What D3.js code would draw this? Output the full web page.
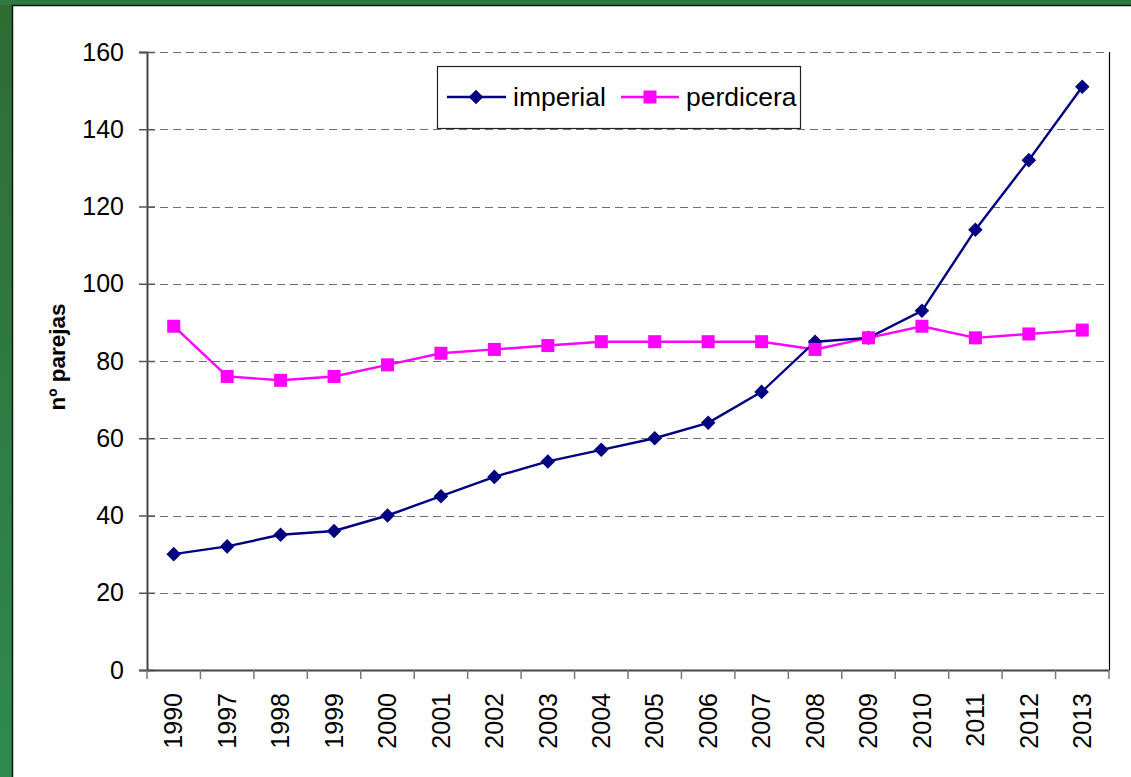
<!DOCTYPE html>
<html><head><meta charset="utf-8">
<script src="https://cdn.jsdelivr.net/npm/d3@7"></script>
<style>html,body{margin:0;padding:0;background:#fff;}svg{display:block;}</style>
</head><body>
<script>
const years = ["1990","1997","1998","1999","2000","2001","2002","2003","2004","2005","2006","2007","2008","2009","2010","2011","2012","2013"];
const imperial = [30,32,35,36,40,45,50,54,57,60,64,72,85,86,93,114,132,151];
const perdicera = [89,76,75,76,79,82,83,84,85,85,85,85,83,86,89,86,87,88];
const yTicks = [0,20,40,60,80,100,120,140,160];
const seriesNames = ["imperial","perdicera"];

const W=1131,H=777;
const svg=d3.select("body").append("svg").attr("width",W).attr("height",H);
const defs=svg.append("defs");
const g1=defs.append("linearGradient").attr("id","gr").attr("x1",0).attr("y1",0).attr("x2",0).attr("y2",1);
g1.append("stop").attr("offset","0%").attr("stop-color","#2f6c34");
g1.append("stop").attr("offset","100%").attr("stop-color","#2e8a50");
svg.append("rect").attr("width",W).attr("height",H).attr("fill","#fff");
svg.append("rect").attr("x",0).attr("y",0).attr("width",12).attr("height",H).attr("fill","url(#gr)");
svg.append("rect").attr("x",0).attr("y",0).attr("width",W).attr("height",5).attr("fill","#2f7a42");
svg.append("line").attr("x1",12.5).attr("x2",12.5).attr("y1",5).attr("y2",H).attr("stroke","#0a1a0a").attr("stroke-width",1.5);
svg.append("line").attr("x1",12).attr("x2",W).attr("y1",5.5).attr("y2",5.5).attr("stroke","#0a1a0a").attr("stroke-width",1.5);

const L=147,R=1109,T=52,B=670;
const x=d3.scaleBand().domain(years).range([L,R]);
const y=d3.scaleLinear().domain([0,160]).range([B,T]);
const font="Liberation Sans, Arial, sans-serif";

// grid
svg.append("g").selectAll("line").data(yTicks.filter(d=>d>0)).join("line")
  .attr("x1",L).attr("x2",R).attr("y1",d=>Math.round(y(d))+0.5).attr("y2",d=>Math.round(y(d))+0.5)
  .attr("stroke","#6e6e6e").attr("stroke-width",1.2).attr("stroke-dasharray","8,5");
// right border
svg.append("line").attr("x1",R+0.5).attr("x2",R+0.5).attr("y1",T).attr("y2",B).attr("stroke","#000").attr("stroke-width",1.2);

// y axis
const ya=svg.append("g").attr("transform",`translate(${L},0)`).call(d3.axisLeft(y).tickValues(yTicks).tickSize(8).tickPadding(15));
ya.select(".domain").attr("stroke","#444").attr("stroke-width",2);
ya.selectAll(".tick line").attr("stroke","#555").attr("stroke-width",1.5).attr("x2",-8).attr("x1",8);
ya.selectAll("text").attr("font-family",font).attr("font-size",25).attr("fill","#000");

// x axis
const xa=svg.append("g").attr("transform",`translate(0,${B})`).call(d3.axisBottom(x).tickSize(0).tickPadding(0));
xa.select(".domain").attr("stroke","#444").attr("stroke-width",2);
xa.selectAll(".tick text").attr("font-family",font).attr("font-size",25).attr("fill","#000")
  .attr("transform","rotate(-90)").attr("text-anchor","end").attr("x",-23).attr("y",0).attr("dy","0.35em");
svg.append("g").selectAll("line").data(years.concat(["end"])).join("line")
  .attr("x1",(d,i)=>L+i*x.bandwidth()).attr("x2",(d,i)=>L+i*x.bandwidth())
  .attr("y1",B).attr("y2",B+9).attr("stroke","#777").attr("stroke-width",1.5);

// y label
svg.append("text").attr("transform",`translate(65,${(T+B)/2-4}) rotate(-90)`).attr("text-anchor","middle")
  .attr("font-family",font).attr("font-weight","bold").attr("font-size",22.5).text("nº parejas");

const cx=d=>x(d)+x.bandwidth()/2;
const line=d3.line().x((d,i)=>cx(years[i])).y(d=>y(d));
svg.append("path").datum(perdicera).attr("d",line).attr("fill","none").attr("stroke","#ff00ff").attr("stroke-width",2.4);
svg.append("path").datum(imperial).attr("d",line).attr("fill","none").attr("stroke","#000080").attr("stroke-width",2.4);
svg.append("g").selectAll("path").data(imperial).join("path")
  .attr("d",d3.symbol(d3.symbolDiamond2,135)).attr("transform",(d,i)=>`translate(${cx(years[i])},${y(d)})`)
  .attr("fill","#000080");
svg.append("g").selectAll("rect").data(perdicera).join("rect")
  .attr("x",(d,i)=>cx(years[i])-6.5).attr("y",d=>y(d)-6.5).attr("width",13).attr("height",13).attr("fill","#ff00ff");

// legend
const lg=svg.append("g");
lg.append("rect").attr("x",437.5).attr("y",66.5).attr("width",363).attr("height",62).attr("fill","#fff").attr("stroke","#222").attr("stroke-width",1.2);
const ly=97;
lg.append("line").attr("x1",447).attr("x2",506).attr("y1",ly).attr("y2",ly).attr("stroke","#000080").attr("stroke-width",2.4);
lg.append("path").attr("d",d3.symbol(d3.symbolDiamond2,135)).attr("transform",`translate(476,${ly})`).attr("fill","#000080");
lg.append("text").attr("x",513).attr("y",ly).attr("dy","0.35em").attr("font-family",font).attr("font-size",26.5).text(seriesNames[0]);
lg.append("line").attr("x1",621).attr("x2",679).attr("y1",ly).attr("y2",ly).attr("stroke","#ff00ff").attr("stroke-width",2.4);
lg.append("rect").attr("x",643.5).attr("y",ly-6.5).attr("width",13).attr("height",13).attr("fill","#ff00ff");
lg.append("text").attr("x",686).attr("y",ly).attr("dy","0.35em").attr("font-family",font).attr("font-size",26.5).text(seriesNames[1]);
</script>
</body></html>
